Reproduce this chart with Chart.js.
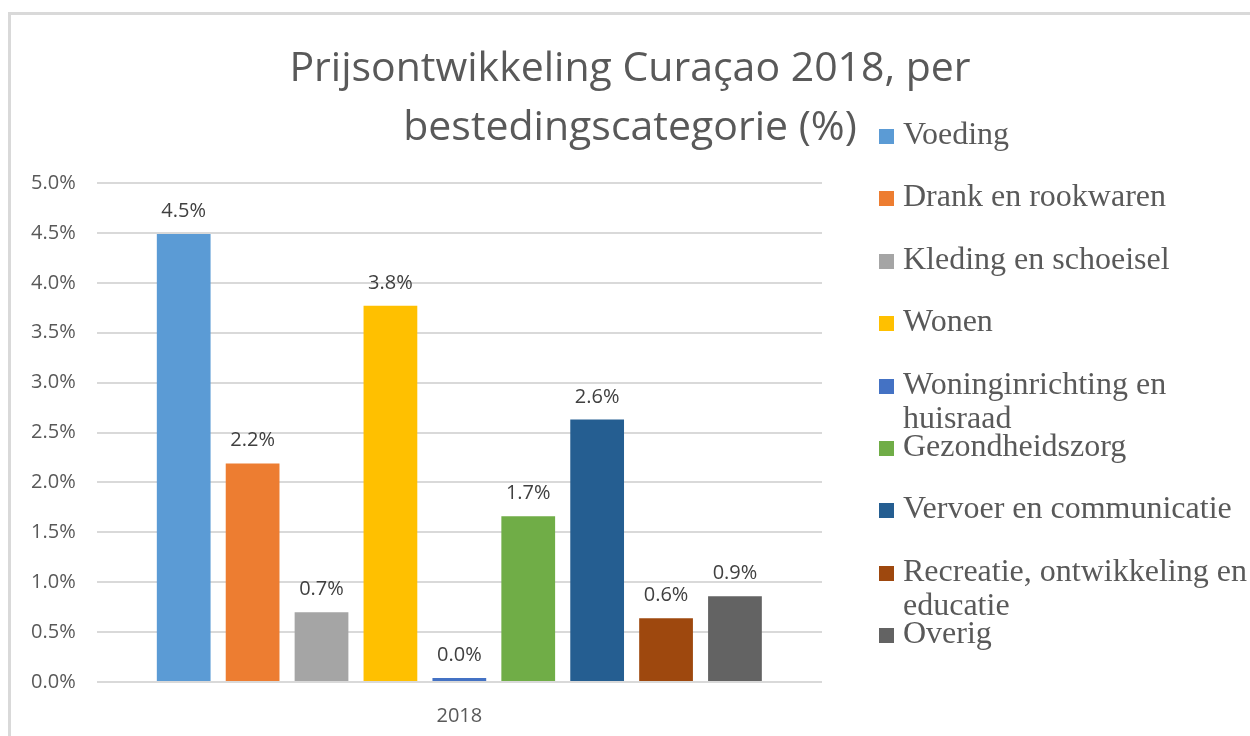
<!DOCTYPE html>
<html>
<head>
<meta charset="utf-8">
<script src="https://cdn.jsdelivr.net/npm/chart.js@4"></script>
<style>
    body { margin: 0; overflow: hidden; background: #fff; }
    #wrap { position: relative; width: 1250px; height: 736px; overflow: hidden; }
    #frame { position: absolute; left: 8px; top: 12px; right: -10px; bottom: -10px;
             border-top: 3px solid #d9d9d9; border-left: 3px solid #d9d9d9; }
    #myChart { position: absolute; left: 0; top: 0; }
    #legend { position: absolute; left: 879px; top: 0; }
    .item { position: absolute; left: 0; width: 371px; }
    .box { position: absolute; left: 0; top: 13px; width: 15px; height: 15px; }
    .txt { position: absolute; left: 24px; width: 350px;
           font-family: 'Liberation Serif', 'Times New Roman', serif; font-size: 32px;
           line-height: 34px; color: #595959; }
</style>
</head>
<body>
<div id="wrap">
    <div id="frame"></div>
    <canvas id="myChart" width="1250" height="736"></canvas>
    <div id="legend"></div>
</div>
<script>
const categories = ['2018'];
const seriesNames = [
    'Voeding',
    'Drank en rookwaren',
    'Kleding en schoeisel',
    'Wonen',
    'Woninginrichting en huisraad',
    'Gezondheidszorg',
    'Vervoer en communicatie',
    'Recreatie, ontwikkeling en educatie',
    'Overig'
];
const seriesValues = [4.49, 2.19, 0.70, 3.77, 0.04, 1.66, 2.63, 0.64, 0.86];
const seriesColors = ['#5b9bd5', '#ed7d31', '#a5a5a5', '#ffc000', '#4472c4', '#70ad47', '#255e91', '#9e480e', '#636363'];
const titleLines = ['Prijsontwikkeling Curaçao 2018, per', 'bestedingscategorie (%)'];

const sans = "'Open Sans', 'Liberation Sans', sans-serif";

// value labels above the bars
const barLabels = {
    id: 'barLabels',
    afterDatasetsDraw(chart) {
        const ctx = chart.ctx;
        ctx.save();
        ctx.font = '20px ' + sans;
        ctx.fillStyle = '#404040';
        ctx.textAlign = 'center';
        ctx.textBaseline = 'alphabetic';
        chart.data.datasets.forEach((ds, i) => {
            chart.getDatasetMeta(i).data.forEach((bar, j) => {
                ctx.fillText(ds.data[j].toFixed(1) + '%', bar.x, bar.y - 17);
            });
        });
        ctx.restore();
    }
};

const datasets = seriesNames.map((name, i) => ({
    label: name,
    data: [seriesValues[i]],
    backgroundColor: seriesColors[i],
    borderWidth: 0,
    barPercentage: 0.78,
    categoryPercentage: 0.855
}));

const ctx = document.getElementById('myChart');
const myChart = new Chart(ctx, {
    type: 'bar',
    data: {
        labels: categories,
        datasets: datasets
    },
    options: {
        responsive: false,
        animation: false,
        layout: {
            padding: {left: 10, top: 0, right: 0, bottom: -14}
        },
        plugins: {
            legend: {display: false},
            tooltip: {enabled: false},
            title: {
                display: true,
                text: titleLines,
                color: '#595959',
                font: {family: sans, size: 41, weight: 'normal', lineHeight: 59 / 41},
                padding: {top: 40, bottom: 25}
            }
        },
        scales: {
            x: {
                grid: {display: false, drawTicks: false},
                border: {display: false},
                ticks: {color: '#595959', font: {family: sans, size: 20}, padding: 22}
            },
            y: {
                min: 0,
                max: 5,
                grid: {color: '#d9d9d9', lineWidth: 2, drawTicks: false},
                border: {display: false},
                ticks: {
                    stepSize: 0.5,
                    color: '#595959',
                    font: {family: sans, size: 20},
                    padding: 21,
                    callback: v => v.toFixed(1) + '%'
                }
            },
            // empty space on the right for the legend
            y2: {
                position: 'right',
                grid: {display: false},
                border: {display: false},
                ticks: {display: false},
                afterFit(scale) { scale.width = 428; }
            }
        }
    },
    plugins: [barLabels]
});

// html legend
const legendEl = document.getElementById('legend');
const items = myChart.options.plugins.legend.labels.generateLabels(myChart);
items.forEach((it, i) => {
    const row = document.createElement('div');
    row.className = 'item';
    row.style.top = (116 + i * 62.4) + 'px';
    const box = document.createElement('div');
    box.className = 'box';
    box.style.background = it.fillStyle;
    const txt = document.createElement('div');
    txt.className = 'txt';
    txt.textContent = it.text;
    row.appendChild(box);
    row.appendChild(txt);
    legendEl.appendChild(row);
});
</script>
</body>
</html>
